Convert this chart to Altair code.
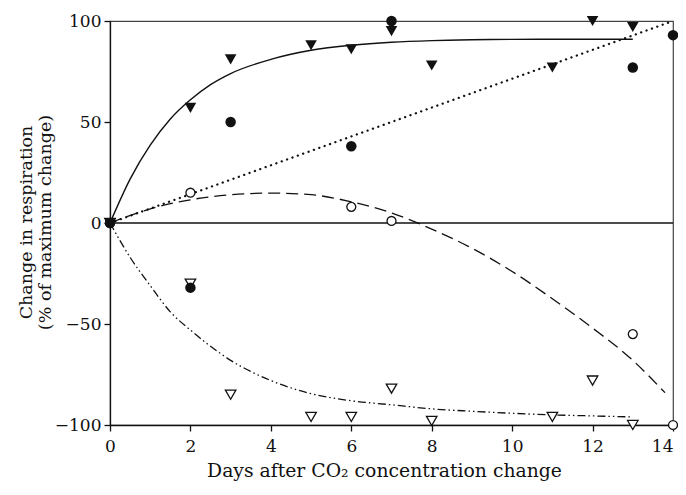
import altair as alt
import pandas as pd

# ---- data ----
fc_day = [0, 2, 3, 6, 7, 13, 14]
fc_val = [0, -32, 50, 38, 100, 77, 93]

ft_day = [0, 2, 3, 5, 6, 7, 8, 11, 12, 13]
ft_val = [0, 57, 81, 88, 86, 95, 78, 77, 100, 97]

oc_day = [0, 2, 6, 7, 13, 14]
oc_val = [0, 15, 8, 1, -55, -100]

ot_day = [0, 2, 3, 5, 6, 7, 8, 11, 12, 13]
ot_val = [0, -30, -85, -96, -96, -82, -98, -96, -78, -100]

solid_day = [0, 0.5, 1, 1.5, 2, 2.5, 3, 4, 5, 6, 7, 8, 9, 10, 11, 12, 13]
solid_val = [0, 21.7, 38.5, 51.5, 61, 68.5, 74, 81, 85.5, 88, 89.5, 90.3, 90.7, 90.9, 91, 91, 91]

dotted_day = [0, 14]
dotted_val = [0, 100]

dashed_day = [0, 1, 2, 3, 4, 5, 6, 7, 8, 9, 10, 11, 12, 13, 13.8]
dashed_val = [0, 7, 11.5, 14, 14.8, 14, 10.5, 5, -3, -12.5, -24, -37.5, -52, -68, -84]

dashdot_day = [0, 0.5, 1, 1.5, 2, 2.5, 3, 3.5, 4, 5, 6, 7, 8, 9, 10, 11, 12, 13]
dashdot_val = [0, -17, -31, -44, -53, -61, -68, -73.5, -78, -84.5, -88, -90, -92, -93.2, -94.2, -95, -95.5, -96]

x_ticks = [0, 2, 4, 6, 8, 10, 12, 14]
y_ticks = [-100, -50, 0, 50, 100]

FONT = "DejaVu Serif"
INK = "#111111"

xs = alt.Scale(domain=[0, 14], nice=False)
ys = alt.Scale(domain=[-100, 100], nice=False)

xaxis = alt.Axis(values=x_ticks, title="Days after CO\u2082 concentration change",
                 grid=False, tickSize=6, labelPadding=7, labelFlush=False,
                 labelFontSize=17,
                 labelAlign={"condition": {"test": "datum.value == 14", "value": "right"},
                             "value": "center"},
                 titleFontSize=18.8, titleX=274, titleY=51,
                 titleBaseline="alphabetic", titleAlign="center")
yaxis = alt.Axis(values=y_ticks, title=["Change in respiration", "(% of maximum change)"],
                 grid=False, tickSize=6, labelPadding=3, labelFontSize=17,
                 titleFontSize=17.5, titleLineHeight=19.5,
                 titleX=-79, titleY=201, titleAngle=270,
                 titleBaseline="alphabetic", titleAlign="center")


def X():
    return alt.X("day:Q", scale=xs, axis=xaxis)


def Y():
    return alt.Y("val:Q", scale=ys, axis=yaxis)


def df(d, v):
    return pd.DataFrame({"day": d, "val": v})


zero = alt.Chart(pd.DataFrame({"day": [0], "day2": [14], "val": [0]})).mark_rule(
    color=INK, strokeWidth=1.4).encode(x=X(), x2="day2:Q", y=Y())

solid = alt.Chart(df(solid_day, solid_val)).mark_line(
    color=INK, strokeWidth=1.4, interpolate="monotone").encode(x=X(), y=Y())
dotted = alt.Chart(df(dotted_day, dotted_val)).mark_line(
    color=INK, strokeWidth=2.3, strokeDash=[0.1, 5.6], strokeCap="round").encode(x=X(), y=Y())
dashed = alt.Chart(df(dashed_day, dashed_val)).mark_line(
    color=INK, strokeWidth=1.3, strokeDash=[12, 6], interpolate="monotone").encode(x=X(), y=Y())
dashdot = alt.Chart(df(dashdot_day, dashdot_val)).mark_line(
    color=INK, strokeWidth=1.3, strokeDash=[8, 3, 1.5, 3, 1.5, 3], interpolate="monotone").encode(x=X(), y=Y())

fc = alt.Chart(df(fc_day, fc_val)).mark_point(
    shape="circle", filled=True, color=INK, size=110, opacity=1).encode(x=X(), y=Y())
ft = alt.Chart(df(ft_day, ft_val)).mark_point(
    shape="triangle-down", filled=True, color=INK, size=135, opacity=1).encode(x=X(), y=Y())
oc = alt.Chart(df(oc_day, oc_val)).mark_point(
    shape="circle", fill="white", stroke=INK, strokeWidth=1.3, size=80, opacity=1,
    fillOpacity=1).encode(x=X(), y=Y())
ot = alt.Chart(df(ot_day, ot_val)).mark_point(
    shape="triangle-down", fill="white", stroke=INK, strokeWidth=1.3, size=110, opacity=1,
    fillOpacity=1).encode(x=X(), y=Y())

chart = alt.layer(zero, solid, dotted, dashed, dashdot, oc, ot, fc, ft).properties(
    width=563, height=404,
    padding={"left": 102, "top": 13, "right": 5, "bottom": 62},
    autosize=alt.AutoSizeParams(type="none"),
    background="white",
).configure_view(
    stroke="#444444", strokeWidth=1.2
).configure_axis(
    domainColor=INK, domainWidth=1.3, tickColor=INK, tickWidth=1.3,
    labelFont=FONT, labelColor=INK,
    titleFont=FONT, titleFontWeight="normal", titleColor=INK,
)

chart.save("out.html", embed_options={"renderer": "svg", "actions": False})
